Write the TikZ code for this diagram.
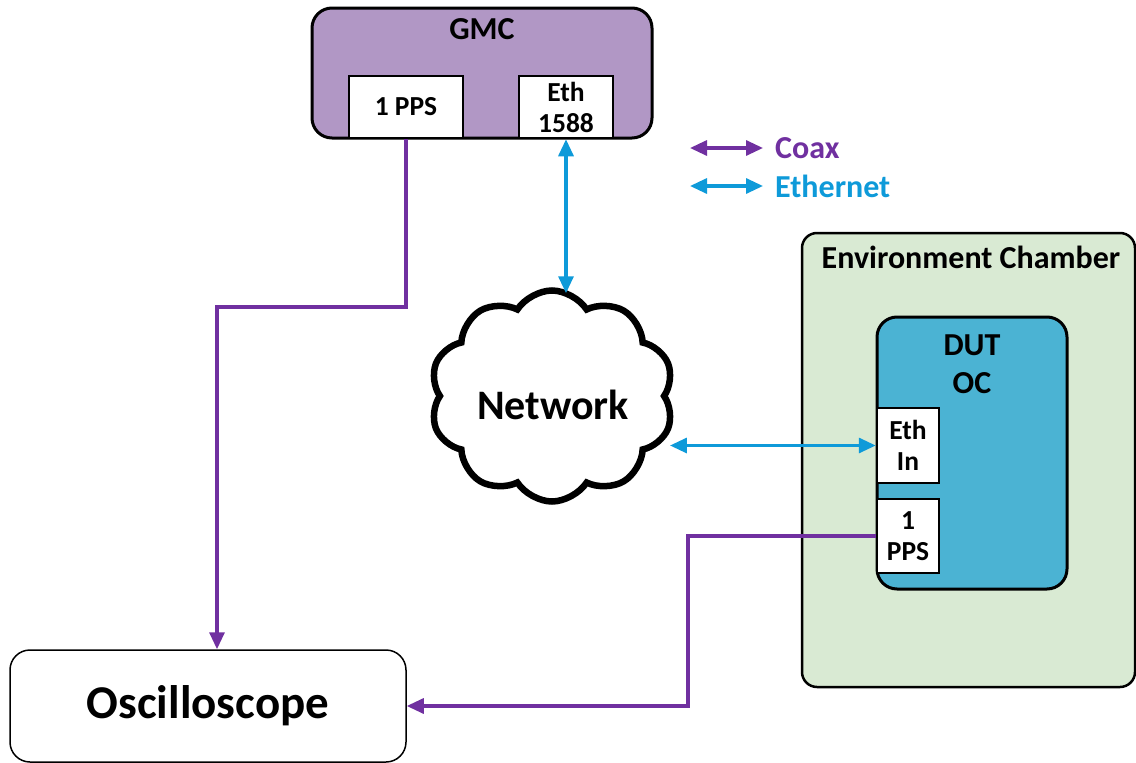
\documentclass[tikz,border=0pt]{standalone}
\usepackage{fontspec}
\setmainfont{Carlito}
\usetikzlibrary{arrows.meta,shapes.symbols,calc}

\definecolor{coaxpurple}{HTML}{7030A0}
\definecolor{ethblue}{HTML}{0E9AD9}
\definecolor{gmcfill}{HTML}{B197C5}
\definecolor{dutfill}{HTML}{4BB3D3}
\definecolor{chamberfill}{HTML}{D9EAD3}

\tikzset{
  tip/.tip={Triangle[length=17pt,width=15pt]},
  coax/.style={draw=coaxpurple,line width=3.2pt},
  eth/.style={draw=ethblue,line width=3.2pt},
  port/.style={draw=black,fill=white,line width=2.5pt,inner sep=0pt,align=center,font=\bfseries\fontsize{27.5}{31}\selectfont},
  lbl/.style={inner sep=0pt,align=center,font=\bfseries\fontsize{32}{38}\selectfont},
}

\begin{document}
\begin{tikzpicture}[x=1pt,y=-1pt]
\useasboundingbox (0,0) rectangle (1136,763);

% Grandmaster clock
\node[draw=black,fill=gmcfill,line width=3pt,rounded corners=20pt,
      minimum width=340,minimum height=130,inner sep=0pt] (gmc) at (482,73) {};
\node[lbl] (gmcname) at (482,29) {GMC};
\node[port,minimum width=114,minimum height=62] (gmcpps) at (406,107) {1 PPS};
\node[port,minimum width=94,minimum height=62] (gmceth) at (566,107) {Eth\\1588};

% Legend
\coordinate (lc1) at (690,148);
\coordinate (lc2) at (763,148);
\coordinate (le1) at (690,186);
\coordinate (le2) at (763,186);
\draw[coax,tip-tip] (lc1) -- (lc2);
\draw[eth,tip-tip] (le1) -- (le2);
\node[lbl,anchor=west,text=coaxpurple] (legcoax) at (775,148) {Coax};
\node[lbl,anchor=west,text=ethblue] (legeth) at (775,186) {Ethernet};

% Network cloud
\node[cloud,draw=black,fill=white,line width=6.5pt,cloud puffs=10,cloud puff arc=115,
      aspect=1.1,minimum width=244,minimum height=211,inner sep=0pt] (net) at (552,396) {};
\node[inner sep=0pt,font=\bfseries\fontsize{42}{48}\selectfont] (nettext) at (553,405) {Network};

% Environment chamber with device under test
\node[draw=black,fill=chamberfill,line width=2.5pt,rounded corners=15pt,
      minimum width=333,minimum height=454,inner sep=0pt] (chamber) at (968.5,460) {};
\node[lbl] (chambername) at (971,257) {Environment Chamber};
\node[draw=black,fill=dutfill,line width=3pt,rounded corners=20pt,
      minimum width=190,minimum height=272,inner sep=0pt] (dut) at (972,453) {};
\node[lbl] (dutname) at (972,364) {DUT\\OC};
\node[port,minimum width=62,minimum height=75] (dutethin) at (908,445.5) {Eth\\In};
\node[port,minimum width=62,minimum height=74] (dutpps) at (908,536) {1\\PPS};

% Oscilloscope
\node[draw=black,fill=white,line width=1.5pt,rounded corners=20pt,
      minimum width=396,minimum height=112,inner sep=0pt,
      font=\bfseries\fontsize{47}{52}\selectfont] (osc) at (208,706) {Oscilloscope};

% Coax runs
\coordinate (bendA) at (217,307);
\coordinate (bendB) at (688,536);
\draw[coax,-tip] (gmcpps.south) |- (bendA) -- (bendA |- osc.north);
\draw[coax,-tip] (dutpps.west) -- (bendB) |- (osc.east);

% Ethernet runs
\draw[eth,tip-tip] (gmceth.south) -- ($(gmceth.south |- net.north)+(0,6)$);
\draw[eth,tip-tip] (dutethin.west) -- ($(dutethin.west -| net.east)+(2,0)$);
\end{tikzpicture}
\end{document}
